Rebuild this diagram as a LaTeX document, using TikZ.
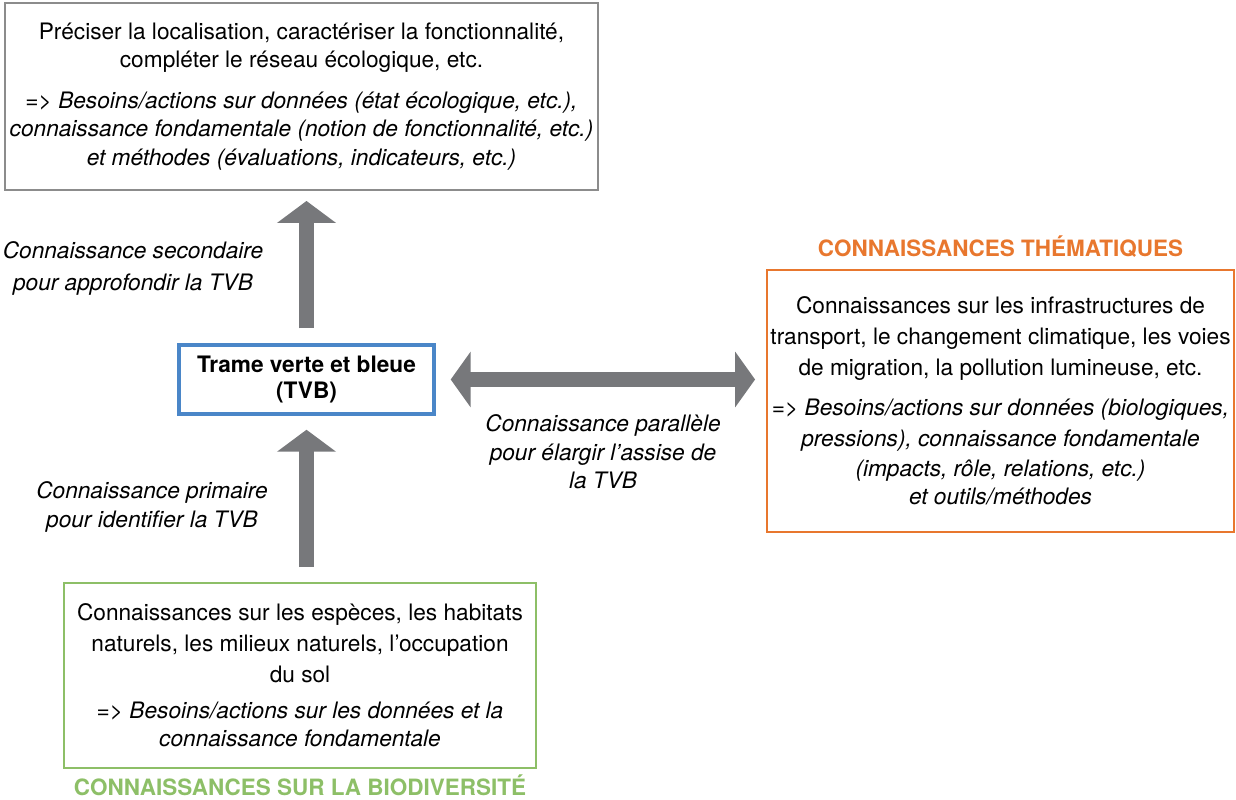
\documentclass[tikz,border=0pt]{standalone}
\usepackage{fontspec}
\setmainfont{TeX Gyre Heros}
\usetikzlibrary{arrows.meta, positioning}
\definecolor{boxgray}{HTML}{8C8C8C}
\definecolor{tvbblue}{HTML}{4A86C8}
\definecolor{themorange}{HTML}{E8772E}
\definecolor{biogreen}{HTML}{8DBF67}
\definecolor{arrowgray}{HTML}{77787B}

\begin{document}
\begin{tikzpicture}[x=0.02cm, y=-0.02cm,
    box/.style={draw, line width=0.04cm, align=center, inner sep=0pt, font=\fontsize{12.9}{16.2}\selectfont},
    title/.style={font=\fontsize{12.8}{14}\selectfont\bfseries},
    comment/.style={align=center, font=\fontsize{12.9}{16.2}\selectfont\itshape},
    bigarrow/.style={arrowgray, line width=0.3cm, -{Triangle[width=1.16cm,length=0.44cm]}},
    dblarrow/.style={arrowgray, line width=0.3cm, {Triangle[width=1.1cm,length=0.4cm]}-{Triangle[width=1.1cm,length=0.4cm]}}]
    \useasboundingbox (0,0) rectangle (1236,800);
    % boites
    \node[box, draw=boxgray, minimum width=11.86cm, minimum height=3.74cm] (top) at (301.5,96.5)
        {Préciser la localisation, caractériser la fonctionnalité,\\ compléter le réseau écologique, etc.\\[7pt]
         => \textit{Besoins/actions sur données (état écologique, etc.),}\\
         \textit{connaissance fondamentale (notion de fonctionnalité, etc.)}\\
         \textit{et méthodes (évaluations, indicateurs, etc.)}};
    \node[box, draw=tvbblue, line width=0.07cm, minimum width=5.1cm, minimum height=1.38cm,
        font=\fontsize{12.9}{14.8}\selectfont\bfseries] (tvb) at (306.5,379.5) {Trame verte et bleue\\ (TVB)};
    \node[box, draw=themorange, minimum width=9.34cm, minimum height=5.24cm,
        font=\fontsize{12.9}{17.6}\selectfont] (them) at (1000.5,401)
        {Connaissances sur les infrastructures de\\ transport, le changement climatique, les voies\\ de migration, la pollution lumineuse, etc.\\[5pt]
         => \textit{Besoins/actions sur données (biologiques,}\\
         \textit{pressions), connaissance fondamentale}\\
         \textit{(impacts, rôle, relations, etc.)}\\[-1.7pt]
         \textit{et outils/méthodes}};
    \node[box, draw=biogreen, minimum width=9.44cm, minimum height=3.7cm,
        font=\fontsize{12.9}{17.6}\selectfont] (bio) at (300,675.5)
        {Connaissances sur les espèces, les habitats\\ naturels, les milieux naturels, l’occupation\\ du sol\\[2.8pt]
         => \textit{Besoins/actions sur les données et la}\\[-1.7pt]
         \textit{connaissance fondamentale}};
    \node[title, text=themorange, above=0.1cm of them] (themtitle) {CONNAISSANCES THÉMATIQUES};
    \node[title, text=biogreen, below=0cm of bio] (biotitle) {CONNAISSANCES SUR LA BIODIVERSITÉ};
    % fleches
    \draw[bigarrow, shorten <=0.3cm, shorten >=0.2cm] (tvb.north) -- (tvb.north |- top.south);
    \draw[bigarrow, shorten <=0.3cm, shorten >=0.28cm] (tvb.south |- bio.north) -- (tvb.south);
    \draw[dblarrow, shorten <=0.3cm, shorten >=0.22cm] (tvb.east) -- (tvb.east -| them.west);
    \node[comment] (second) at (133,268) {Connaissance secondaire\\[2pt] pour approfondir la TVB};
    \node[comment] (prim) at (152,507) {Connaissance primaire\\ pour identifier la TVB};
    \node[comment] (para) at (603,452) {Connaissance parallèle\\ pour élargir l’assise de\\ la TVB};
\end{tikzpicture}
\end{document}
